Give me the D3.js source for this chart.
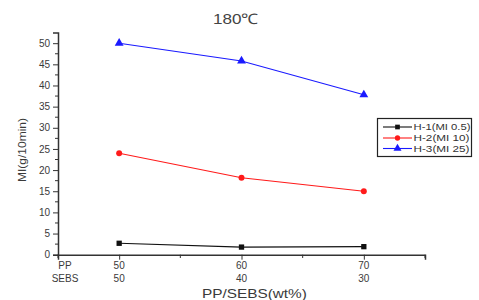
<!DOCTYPE html>
<html><head><meta charset="utf-8">
<script src="https://cdn.jsdelivr.net/npm/d3@7"></script>
<style>body{margin:0;background:#fff}svg{display:block;font-family:"Liberation Sans",Arial,sans-serif}</style>
</head><body><svg id="c" width="479" height="300"></svg>
<script>
const ppValues = [50, 60, 70];
const sebsValues = [50, 40, 30];
const seriesNames = ["H-1(MI 0.5)", "H-2(MI 10)", "H-3(MI 25)"];
const h1 = [2.7, 1.8, 1.9];
const h2 = [24.0, 18.2, 15.0];
const h3 = [50.0, 45.8, 37.8];
const yTicks = [0, 5, 10, 15, 20, 25, 30, 35, 40, 45, 50];
const colors = ["#111111", "#ff1a1a", "#1a1aff"];
const markers = [d3.symbolSquare, d3.symbolCircle, d3.symbolTriangle];

const svg = d3.select("#c");
const x = d3.scaleLinear().domain([45, 75]).range([58, 425]);
const y = d3.scaleLinear().domain([0, 52.5]).range([254.7, 32.6]);
const axisColor = "#333";
const textColor = "#3a3a3a";

// y axis
const ya = svg.append("g").attr("transform", "translate(58,0)")
  .call(d3.axisLeft(y).tickValues(yTicks).tickSize(5).tickPadding(3));
ya.select(".domain").attr("stroke", axisColor).attr("stroke-width", 1.5);
ya.selectAll(".tick line").attr("stroke", axisColor);
ya.selectAll("text").attr("fill", textColor).attr("font-size", 10).attr("font-family", "Liberation Sans, Arial, sans-serif");
const yMinor = d3.range(2.5, 52.5, 5);
svg.append("g").selectAll("line").data(yMinor).join("line")
  .attr("x1", 55).attr("x2", 58).attr("y1", d => y(d)).attr("y2", d => y(d))
  .attr("stroke", axisColor);

// x axis
const xa = svg.append("g").attr("transform", "translate(0,254.7)")
  .call(d3.axisBottom(x).tickValues(ppValues).tickSize(5).tickFormat(""));
xa.select(".domain").attr("stroke", axisColor).attr("stroke-width", 1.5);
xa.selectAll(".tick line").attr("stroke", axisColor);
svg.append("g").selectAll("line").data([45, 55, 65, 75]).join("line")
  .attr("x1", d => x(d)).attr("x2", d => x(d)).attr("y1", 254.7).attr("y2", 258)
  .attr("stroke", axisColor);

const tl = svg.append("g").attr("fill", textColor).attr("font-size", 10).attr("text-anchor", "middle");
ppValues.forEach((v, i) => {
  tl.append("text").attr("x", x(v)).attr("y", 269).text(v);
  tl.append("text").attr("x", x(v)).attr("y", 281.5).text(sebsValues[i]);
});
tl.append("text").attr("x", 65).attr("y", 269).text("PP");
tl.append("text").attr("x", 65).attr("y", 281.5).text("SEBS");

svg.append("text").attr("x", 254.4).attr("y", 298).attr("text-anchor", "middle")
  .attr("font-size", 12).attr("fill", textColor)
  .attr("textLength", 105).attr("lengthAdjust", "spacingAndGlyphs").text("PP/SEBS(wt%)");
svg.append("text").attr("transform", "translate(25.5,150) rotate(-90)").attr("text-anchor", "middle")
  .attr("font-size", 11.5).attr("fill", textColor)
  .attr("textLength", 64).attr("lengthAdjust", "spacingAndGlyphs").text("MI(g/10min)");
svg.append("text").attr("x", 235.5).attr("y", 23.5).attr("text-anchor", "middle")
  .attr("font-size", 14.5).attr("fill", "#444")
  .attr("textLength", 45).attr("lengthAdjust", "spacingAndGlyphs").text("180℃");

// series
const data = [h1, h2, h3];
const line = d3.line().x((d, i) => x(ppValues[i])).y(d => y(d));
data.forEach((s, k) => {
  svg.append("path").attr("d", line(s)).attr("fill", "none").attr("stroke", colors[k]).attr("stroke-width", 1.1);
  svg.append("g").selectAll("path").data(s).join("path")
    .attr("transform", (d, i) => `translate(${x(ppValues[i])},${y(d)})`)
    .attr("d", d3.symbol().type(markers[k]).size(k === 2 ? 34 : 28))
    .attr("fill", colors[k]);
});

// legend
const lg = svg.append("g");
lg.append("rect").attr("x", 377.5).attr("y", 118.5).attr("width", 94).attr("height", 38)
  .attr("fill", "#fff").attr("stroke", "#222").attr("stroke-width", 1.2);
const ly = [127, 138, 148.5];
seriesNames.forEach((n, k) => {
  lg.append("line").attr("x1", 383).attr("x2", 412).attr("y1", ly[k]).attr("y2", ly[k]).attr("stroke", colors[k]).attr("stroke-width", 1.1);
  lg.append("path").attr("transform", `translate(397.5,${ly[k]})`)
    .attr("d", d3.symbol().type(markers[k]).size(k === 2 ? 28 : 22)).attr("fill", colors[k]);
  lg.append("text").attr("x", 413.5).attr("y", ly[k] + 3.3).attr("font-size", 9.5).attr("fill", "#333")
    .attr("textLength", k === 0 ? 57 : 56).attr("lengthAdjust", "spacingAndGlyphs").text(n);
});
</script></body></html>
